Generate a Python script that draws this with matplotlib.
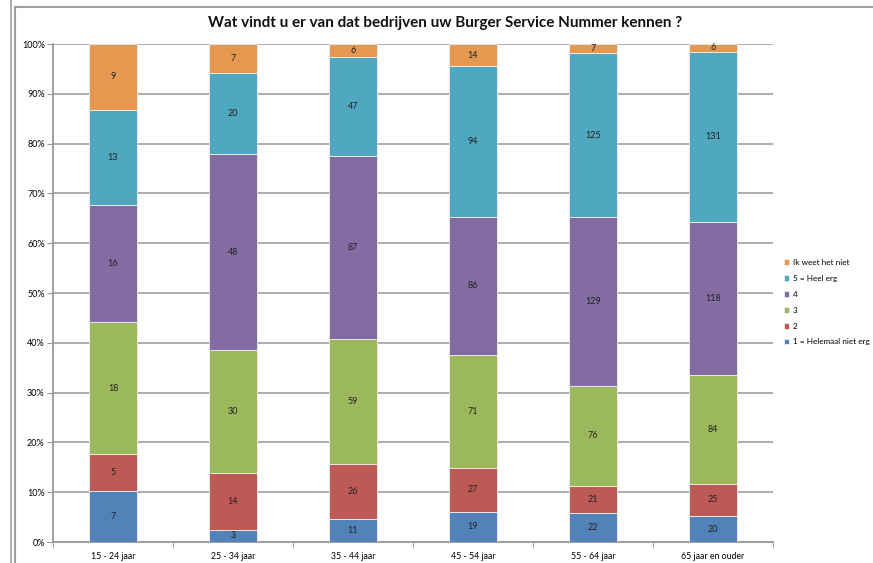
import numpy as np
import matplotlib.pyplot as plt
from matplotlib.lines import Line2D

plt.rcParams['font.family'] = ['Lato', 'DejaVu Sans']

## data: counts per answer per age group ##
groups = ['15 - 24 jaar', '25 - 34 jaar', '35 - 44 jaar', '45 - 54 jaar', '55 - 64 jaar', '65 jaar en ouder']
answers = ['1 = Helemaal niet erg', '2', '3', '4', '5 = Heel erg', 'Ik weet het niet']
helemaal_niet = [7, 3, 11, 19, 22, 20]
twee = [5, 14, 26, 27, 21, 25]
drie = [18, 30, 59, 71, 76, 84]
vier = [16, 48, 87, 86, 129, 118]
heel_erg = [13, 20, 47, 94, 125, 131]
weet_niet = [9, 7, 6, 14, 7, 6]
colors = ['#5283B8', '#BE5A55', '#9BB85C', '#846BA1', '#4FA7C0', '#E5984F']

counts = np.array([helemaal_niet, twee, drie, vier, heel_erg, weet_niet], dtype=float)
pct = counts / counts.sum(axis=0) * 100

fig = plt.figure(figsize=(8.73, 5.63), dpi=100)
ax = fig.add_axes([0.0607, 0.0373, 0.8245, 0.8845])

x = np.arange(len(groups))
bottom = np.zeros(len(groups))
handles = []
for i in range(len(answers)):
    b = ax.bar(x, pct[i], 0.4, bottom=bottom, color=colors[i],
               edgecolor='#f0f0f0', linewidth=0.6, zorder=3, label=answers[i])
    handles.append(b)
    for j in range(len(groups)):
        ax.text(x[j], bottom[j] + pct[i][j] / 2, '%d' % counts[i][j],
                ha='center', va='center', fontsize=6.5, color='#222222', zorder=4)
    bottom = bottom + pct[i]

ax.set_xlim(-0.5, len(groups) - 0.5)
ax.set_ylim(0, 100)
ax.set_yticks(np.arange(0, 101, 10))
ax.set_yticklabels(['%d%%' % v for v in range(0, 101, 10)], fontsize=6.5)
ax.set_xticks(x)
ax.set_xticklabels(groups, fontsize=6.3)
ax.set_xticks(np.arange(-0.5, len(groups)), minor=True)
ax.tick_params(axis='x', which='major', length=0, pad=7)
ax.tick_params(axis='x', which='minor', length=4, color='#999999', direction='out')
ax.tick_params(axis='y', length=4, color='#999999', pad=2)
ax.grid(axis='y', color='#a6a6a6', linewidth=1.3, zorder=0)
for s in ['top', 'right']:
    ax.spines[s].set_visible(False)
for s in ['left', 'bottom']:
    ax.spines[s].set_color('#999999')
    ax.spines[s].set_linewidth(1.3)

fig.text(0.51, 0.96, 'Wat vindt u er van dat bedrijven uw Burger Service Nummer kennen ?',
         ha='center', va='center', fontsize=11, fontweight='bold', color='#111111')

leg = fig.legend(handles[::-1], answers[::-1], loc='upper left', bbox_to_anchor=(0.893, 0.547),
                 frameon=False, fontsize=5.9, handlelength=0.7, handleheight=0.7,
                 handletextpad=0.4, labelspacing=1.08, borderpad=0)

# frame of the chart sheet
fig.add_artist(Line2D([15 / 873, 15 / 873], [0, 1 - 7 / 563], color='#a0a0a0', lw=1.5))
fig.add_artist(Line2D([15 / 873, 1], [1 - 7 / 563, 1 - 7 / 563], color='#a0a0a0', lw=1.5))
fig.add_artist(Line2D([11 / 873, 11 / 873], [0, 1], color='#a0a0a0', lw=1.2))

fig.savefig('out.png', dpi=100)
